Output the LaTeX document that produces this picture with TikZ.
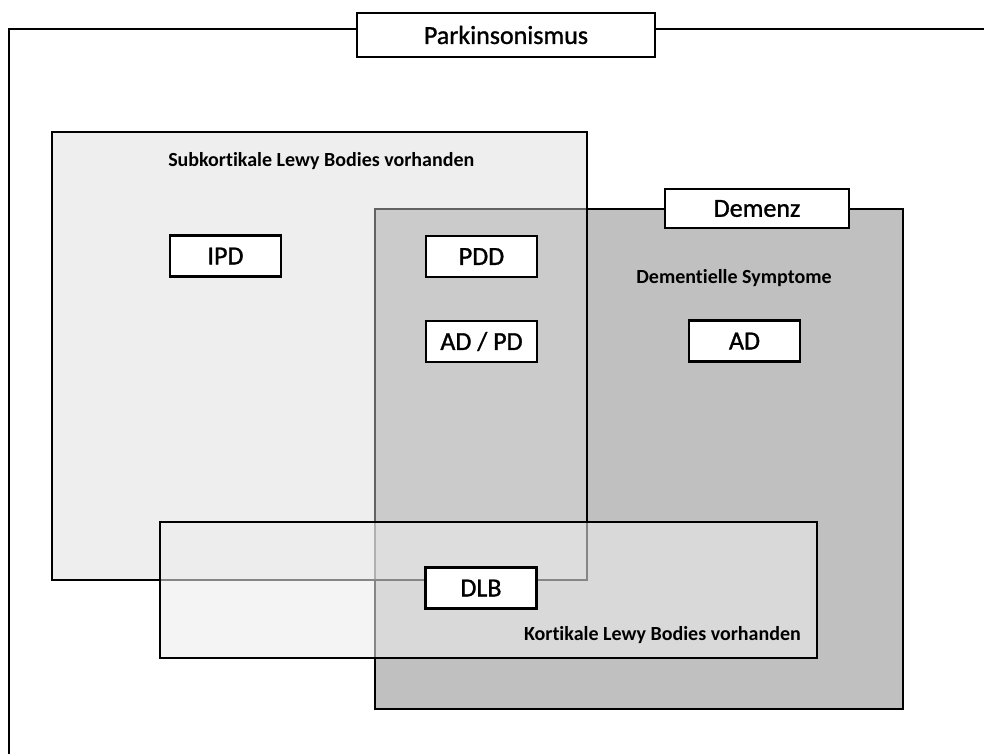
\documentclass[tikz,border=0pt]{standalone}
\usepackage{fontspec}
\setmainfont{Carlito}[Ligatures=NoCommon]
\newfontface\tagfont{Carlito}[FakeBold=1.2, Ligatures=NoCommon]
\definecolor{demgray}{RGB}{192,192,192}
\definecolor{subgray}{RGB}{218,218,218}
\definecolor{korgray}{RGB}{236,236,236}
\tikzset{
	tag/.style={draw, fill=white, line width=2.2pt, minimum width=111pt, minimum height=41pt, inner sep=0pt, font=\tagfont\fontsize{26}{30}\selectfont},
	caption/.style={inner sep=0pt, font=\bfseries\fontsize{20}{24}\selectfont},
}

\begin{document}
\begin{tikzpicture}[x=1pt, y=-1pt, line width=2.5pt]
			%%%%% START %%%%%
			\clip (0, 0) rectangle (984, 753);
			\draw (9, 29) rectangle (1010, 790);
			\node[tag, minimum width=298pt, minimum height=44pt] (park) at (506, 35) {Parkinsonismus};
			
			\draw[fill=demgray] (375, 209) rectangle (903, 709);
			\node[tag, minimum width=184pt, minimum height=39pt] (demenz) at (757, 208.5) {Demenz};
			
			\draw[fill=subgray, fill opacity=0.45] (52, 132) rectangle (587, 580);
			
			\draw[fill=korgray, fill opacity=0.57] (160, 522) rectangle (817, 658);
			
			\node[caption, anchor=west] (subtxt) at (167, 161) {Subkortikale Lewy Bodies vorhanden};
			\node[caption] (demtxt) at (734, 278) {Dementielle Symptome};
			\node[caption, anchor=east] (kortxt) at (802, 635) {Kortikale Lewy Bodies vorhanden};
			
			\node[tag] (ipd) at (225.5, 256) {IPD};
			\node[tag] (pdd) at (481.5, 256.5) {PDD};
			\node[tag] (adpd) at (481.5, 341.5) {AD / PD};
			\node[tag] (ad) at (744.5, 341) {AD};
			\node[tag] (dlb) at (481, 588) {DLB};
			%%%%% END %%%%%
\end{tikzpicture}
\end{document}
